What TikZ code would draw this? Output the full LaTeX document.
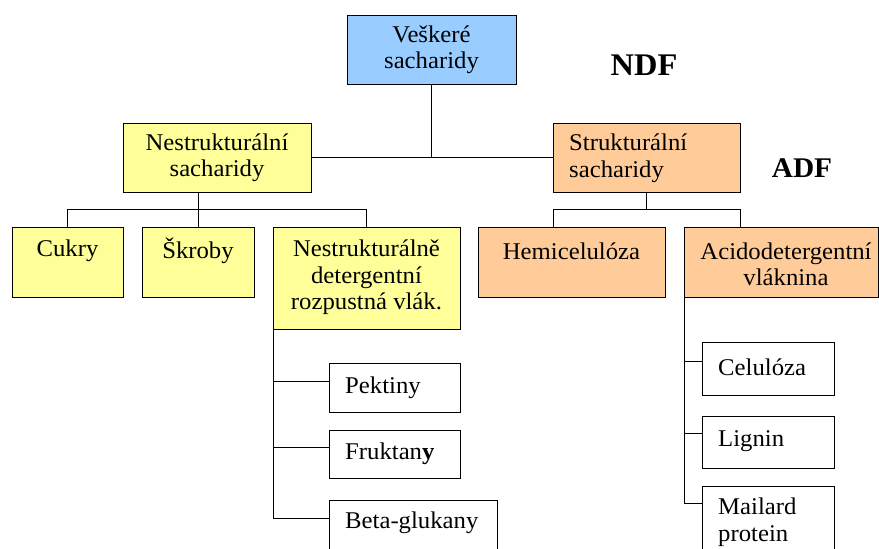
\documentclass[tikz,border=0pt]{standalone}
\usepackage{fontspec}
\setmainfont{Liberation Serif}[FakeStretch=1.03]
\definecolor{boxblue}{HTML}{99CCFF}
\definecolor{boxyel}{HTML}{FFFF99}
\definecolor{boxora}{HTML}{FFCC99}
\begin{document}
\begin{tikzpicture}[x=1pt,y=-1pt,
  box/.style={draw=black, line width=1pt, inner sep=0pt, outer sep=0pt, anchor=north west, rectangle},
  txt/.style={inner sep=0pt, align=center, font=\fontsize{24}{26.5}\selectfont},
  ln/.style={draw=black, line width=1pt}]
\useasboundingbox (0,0) rectangle (879,549);
% boxes
\node[box,fill=boxblue,minimum width=169pt,minimum height=69pt] (all) at (347,15) {};
\node[txt] (tall) at (all.center) {Veškeré\\sacharidy};
\node[box,fill=boxyel,minimum width=188pt,minimum height=69pt] (ns) at (123,123) {};
\node[txt] (tns) at (ns.center) {Nestrukturální\\sacharidy};
\node[box,fill=boxora,minimum width=187pt,minimum height=69pt] (ss) at (553,123) {};
\node[txt,anchor=west,align=left] (tss) at (569,158) {Strukturální\\sacharidy};
\node[box,fill=boxyel,minimum width=111pt,minimum height=70pt] (cuk) at (12,227) {};
\node[txt] (tcuk) at (67.5,251) {Cukry};
\node[box,fill=boxyel,minimum width=112pt,minimum height=70pt] (skr) at (142,227) {};
\node[txt] (tskr) at (198,251) {Škroby};
\node[box,fill=boxyel,minimum width=187pt,minimum height=102pt] (nd) at (273,227) {};
\node[txt] (tnd) at (366.5,277.5) {Nestrukturálně\\detergentní\\rozpustná vlák.};
\node[box,fill=boxora,minimum width=187pt,minimum height=70pt] (hem) at (478,227) {};
\node[txt] (them) at (571.5,251) {Hemicelulóza};
\node[box,fill=boxora,minimum width=194pt,minimum height=70pt] (adf) at (684,227) {};
\node[txt] (tadf) at (786,264.5) {Acidodetergentní\\vláknina};
\node[box,fill=white,minimum width=131pt,minimum height=49pt] (pek) at (329,363) {};
\node[txt,anchor=west] (tpek) at (345,388) {Pektiny};
\node[box,fill=white,minimum width=131pt,minimum height=48pt] (fru) at (329,430) {};
\node[txt,anchor=west] (tfru) at (345,454) {Fruktan\textbf{y}};
\node[box,fill=white,minimum width=168pt,minimum height=80pt] (bet) at (329,500) {};
\node[txt,anchor=west] (tbet) at (345,523) {Beta-glukany};
\node[box,fill=white,minimum width=132pt,minimum height=53pt] (cel) at (702,342) {};
\node[txt,anchor=west] (tcel) at (718,367) {Celulóza};
\node[box,fill=white,minimum width=132pt,minimum height=52pt] (lig) at (702,416) {};
\node[txt,anchor=west] (tlig) at (718,441) {Lignin};
\node[box,fill=white,minimum width=132pt,minimum height=80pt] (mai) at (702,486) {};
\node[txt,anchor=west,align=left] (tmai) at (718,522) {Mailard\\protein};
% labels
\node[inner sep=0pt,anchor=base,font=\bfseries\fontsize{31.5}{36}\selectfont] (ndf) at (644,75) {NDF};
\node[inner sep=0pt,anchor=base,font=\bfseries\fontsize{28.5}{33}\selectfont] (adflab) at (802,177) {ADF};
% connectors
\coordinate (hl) at (68,209);
\draw[ln] (all.south) -- (all.south |- ns.east);
\draw[ln] (ns.east) -- (ss.west);
\draw[ln] (skr.north) -- (skr.north |- ns.south);
\draw[ln] (cuk.north) -- (cuk.north |- hl) -- (nd.north |- hl) -- (nd.north);
\draw[ln] (ss.south) -- (ss.south |- hl);
\draw[ln] (hem.north -| ss.south west) -- (ss.south west |- hl) -- (ss.south east |- hl) -- (adf.north -| ss.south east);
\coordinate (lb) at (273,518);
\coordinate (l1) at (273,381);
\coordinate (l2) at (273,447);
\draw[ln] (nd.south west) -- (lb) -- (lb -| bet.west);
\draw[ln] (l1) -- (l1 -| pek.west);
\draw[ln] (l2) -- (l2 -| fru.west);
\coordinate (rb) at (684,503);
\coordinate (r1) at (684,361);
\coordinate (r2) at (684,433);
\draw[ln] (adf.south west) -- (rb) -- (rb -| mai.west);
\draw[ln] (r1) -- (r1 -| cel.west);
\draw[ln] (r2) -- (r2 -| lig.west);
\end{tikzpicture}
\end{document}
